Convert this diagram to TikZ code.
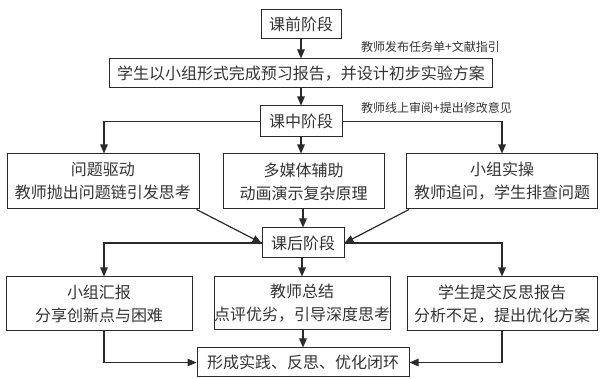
\documentclass[tikz,border=0pt]{standalone}
\usepackage{fontspec}
\newfontfamily\cjk{Noto Sans CJK SC}
\usetikzlibrary{arrows.meta,calc}
\definecolor{ln}{HTML}{2A2A2A}
\definecolor{tx}{HTML}{333333}
\tikzset{
  box/.style={draw=ln, line width=1pt, text=tx, align=center, inner sep=0pt,
    font=\cjk\fontsize{16}{23}\selectfont},
  lab/.style={text=tx, inner sep=0pt, anchor=west, font=\cjk\fontsize{12}{14}\selectfont},
  arr/.style={draw=ln, line width=1.2pt, -{Triangle[length=9pt,width=7.5pt]}},
}
\begin{document}
\begin{tikzpicture}[x=1pt,y=-1pt]
\useasboundingbox (0,0) rectangle (603,379);
% nodes
\node[box, minimum width=80, minimum height=29] (pre) at (301,24.5) {课前阶段};
\node[box, minimum width=383, minimum height=29] (prep) at (301,73.5) {学生以小组形式完成预习报告，并设计初步实验方案};
\node[box, minimum width=82, minimum height=31] (mid) at (301,121.5) {课中阶段};
\node[box, minimum width=192, minimum height=55] (q) at (103,181.5) {问题驱动\\教师抛出问题链引发思考};
\node[box, minimum width=161, minimum height=55] (mm) at (303.5,181.5) {多媒体辅助\\动画演示复杂原理};
\node[box, minimum width=191, minimum height=55] (grp) at (502,181.5) {小组实操\\教师追问，学生排查问题};
\node[box, minimum width=82, minimum height=30] (post) at (303,243) {课后阶段};
\node[box, minimum width=186, minimum height=54] (rep) at (99,304) {小组汇报\\分享创新点与困难};
\node[box, minimum width=176, minimum height=53] (sum) at (302,303.5) {教师总结\\点评优劣，引导深度思考};
\node[box, minimum width=190, minimum height=54] (refl) at (502,304) {学生提交反思报告\\分析不足，提出优化方案};
\node[box, minimum width=212, minimum height=29] (fin) at (303,362.5) {形成实践、反思、优化闭环};
% labels
\node[lab] (l1) at (361,47) {教师发布任务单+文献指引};
\node[lab] (l2) at (361,108) {教师线上审阅+提出修改意见};
% connectors
\draw[arr] (pre.south) -- (prep.north -| pre.south);
\draw[arr] (prep.south -| mid.north) -- (mid.north);
\draw[arr] (mid.west) -| ([xshift=1pt]q.north);
\draw[arr] (mid.east) -| (grp.north);
\draw[arr] (mid.south) -- (mid.south |- mm.north);
\draw[arr] ([xshift=-3pt]q.south east) -- (post.west);
\draw[arr] ([xshift=3pt]grp.south west) -- (post.east);
\draw[arr] (mm.south -| post.north) -- (post.north);
\draw[arr] (post.west) -| ([xshift=5pt]rep.north);
\draw[arr] (post.east) -| (refl.north);
\draw[arr] (post.south -| sum.north) -- (sum.north);
\draw[arr] ([xshift=5pt]rep.south) |- (fin.west);
\draw[arr] (refl.south) |- (fin.east);
\draw[arr] (sum.south -| fin.north) -- (fin.north);
\end{tikzpicture}
\end{document}
